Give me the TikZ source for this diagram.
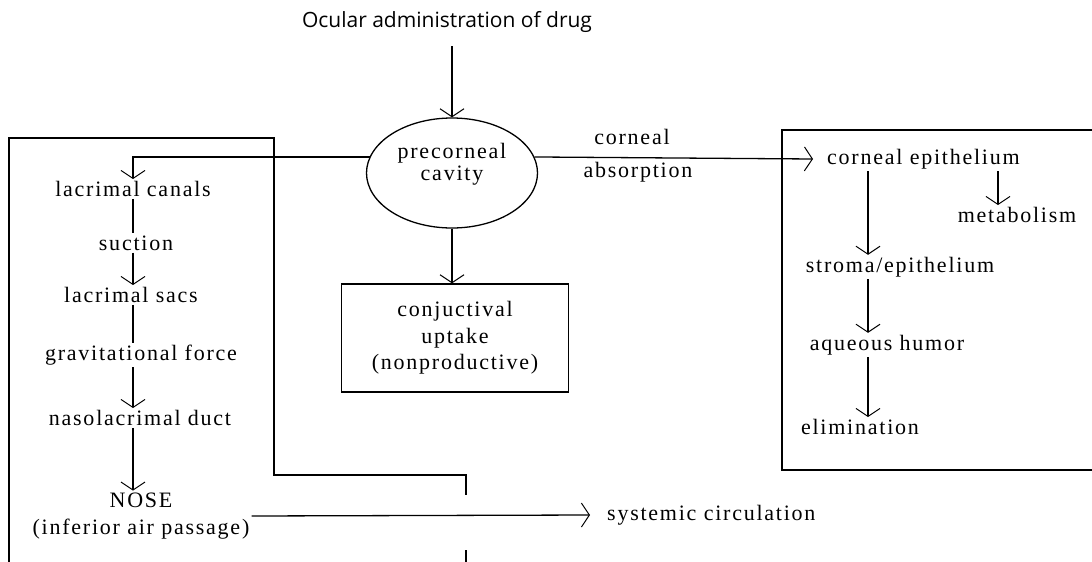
\documentclass[tikz,border=0pt]{standalone}
\usepackage{fontspec}
\setmainfont{Liberation Serif}
\newfontfamily\rf[LetterSpace=8]{Liberation Serif}
\newfontfamily\sff{Open Sans}
\usetikzlibrary{arrows.meta,shapes.geometric}
\tikzset{
  lw/.style={line width=1.3pt},
  arr/.style={lw,-{Straight Barb[length=8pt,width=24pt,line width=1pt]}},
  txt/.style={font=\rf\fontsize{22}{26}\selectfont,inner sep=2pt},
  boxn/.style={txt,draw,lw,align=center},
}
\begin{document}
\begin{tikzpicture}[x=1pt,y=-1pt]
\useasboundingbox (0,0) rectangle (1092,562);
% top
\node[font=\sff\fontsize{21}{24}\selectfont] (top) at (447,22) {Ocular administration of drug};
\node[draw,lw,ellipse,minimum width=171pt,minimum height=110pt,inner sep=0pt] (pc) at (452,173) {};
\node[txt,align=center,font=\rf\fontsize{22}{22}\selectfont] (pct) at (452,164) {precorneal\\cavity};
\draw[arr] ([yshift=-10pt]top.south -| pc.north) -- (pc.north);
% conjunctival box
\node[boxn,minimum width=227pt,minimum height=108pt,font=\rf\fontsize{22}{26.5}\selectfont] (cu) at (455,338) {conjuctival\\uptake\\(nonproductive)};
\draw[arr] (pc.south) -- (pc.south |- cu.north);
% left box frame
\draw[lw] (9,575) -- (9,138) -- (274,138) -- (274,475) -- (466,475) -- (466,495);
\draw[lw] (466,550) -- (466,575);
% left column
\coordinate (lx) at (133,0);
\node[txt] (lc) at (133,189) {lacrimal canals};
\node[txt] (su) at (136,243) {suction};
\node[txt] (ls) at (131,295) {lacrimal sacs};
\node[txt] (gf) at (141,355) {gravitational force};
\node[txt] (nd) at (140,418) {nasolacrimal duct};
\node[txt,align=center,font=\rf\fontsize{22}{27}\selectfont] (nose) at (141,516) {NOSE\\(inferior air passage)};
\draw[arr] (pc.169) -| (lc.north);
\draw[lw] (lc.south -| lx) -- (su.north -| lx);
\draw[arr] (su.south -| lx) -- (ls.north -| lx);
\draw[lw] (ls.south -| lx) -- (gf.north -| lx);
\draw[arr] (gf.south -| lx) -- (nd.north -| lx);
\draw[arr] (nd.south -| lx) -- (nose.north -| lx);
\node[txt,anchor=west,inner xsep=17pt] (sc) at (590,515) {systemic circulation};
\draw[arr] (nose.east) -- (sc.west);
% right side
\draw[lw] (1100,130) -- (782,130) -- (782,470) -- (1100,470);
\node[txt] (cl1) at (632,137) {corneal};
\node[txt] (cl2) at (638,172) {absorption};
\node[txt,anchor=west,inner xsep=14pt] (ce) at (813,159) {corneal epithelium};
\draw[arr] (pc.11) -- (ce.west);
\coordinate (rx) at (868,0);
\coordinate (mx) at (998,0);
\node[txt] (me) at (1017,215) {metabolism};
\node[txt] (se) at (900,267) {stroma/epithelium};
\node[txt] (ah) at (887,345) {aqueous humor};
\node[txt] (el) at (860,427) {elimination};
\draw[arr] (ce.south -| mx) -- (me.north -| mx);
\draw[arr] (ce.south -| rx) -- (se.north -| rx);
\draw[arr] (se.south -| rx) -- (ah.north -| rx);
\draw[arr] (ah.south -| rx) -- (el.north -| rx);
\end{tikzpicture}
\end{document}
